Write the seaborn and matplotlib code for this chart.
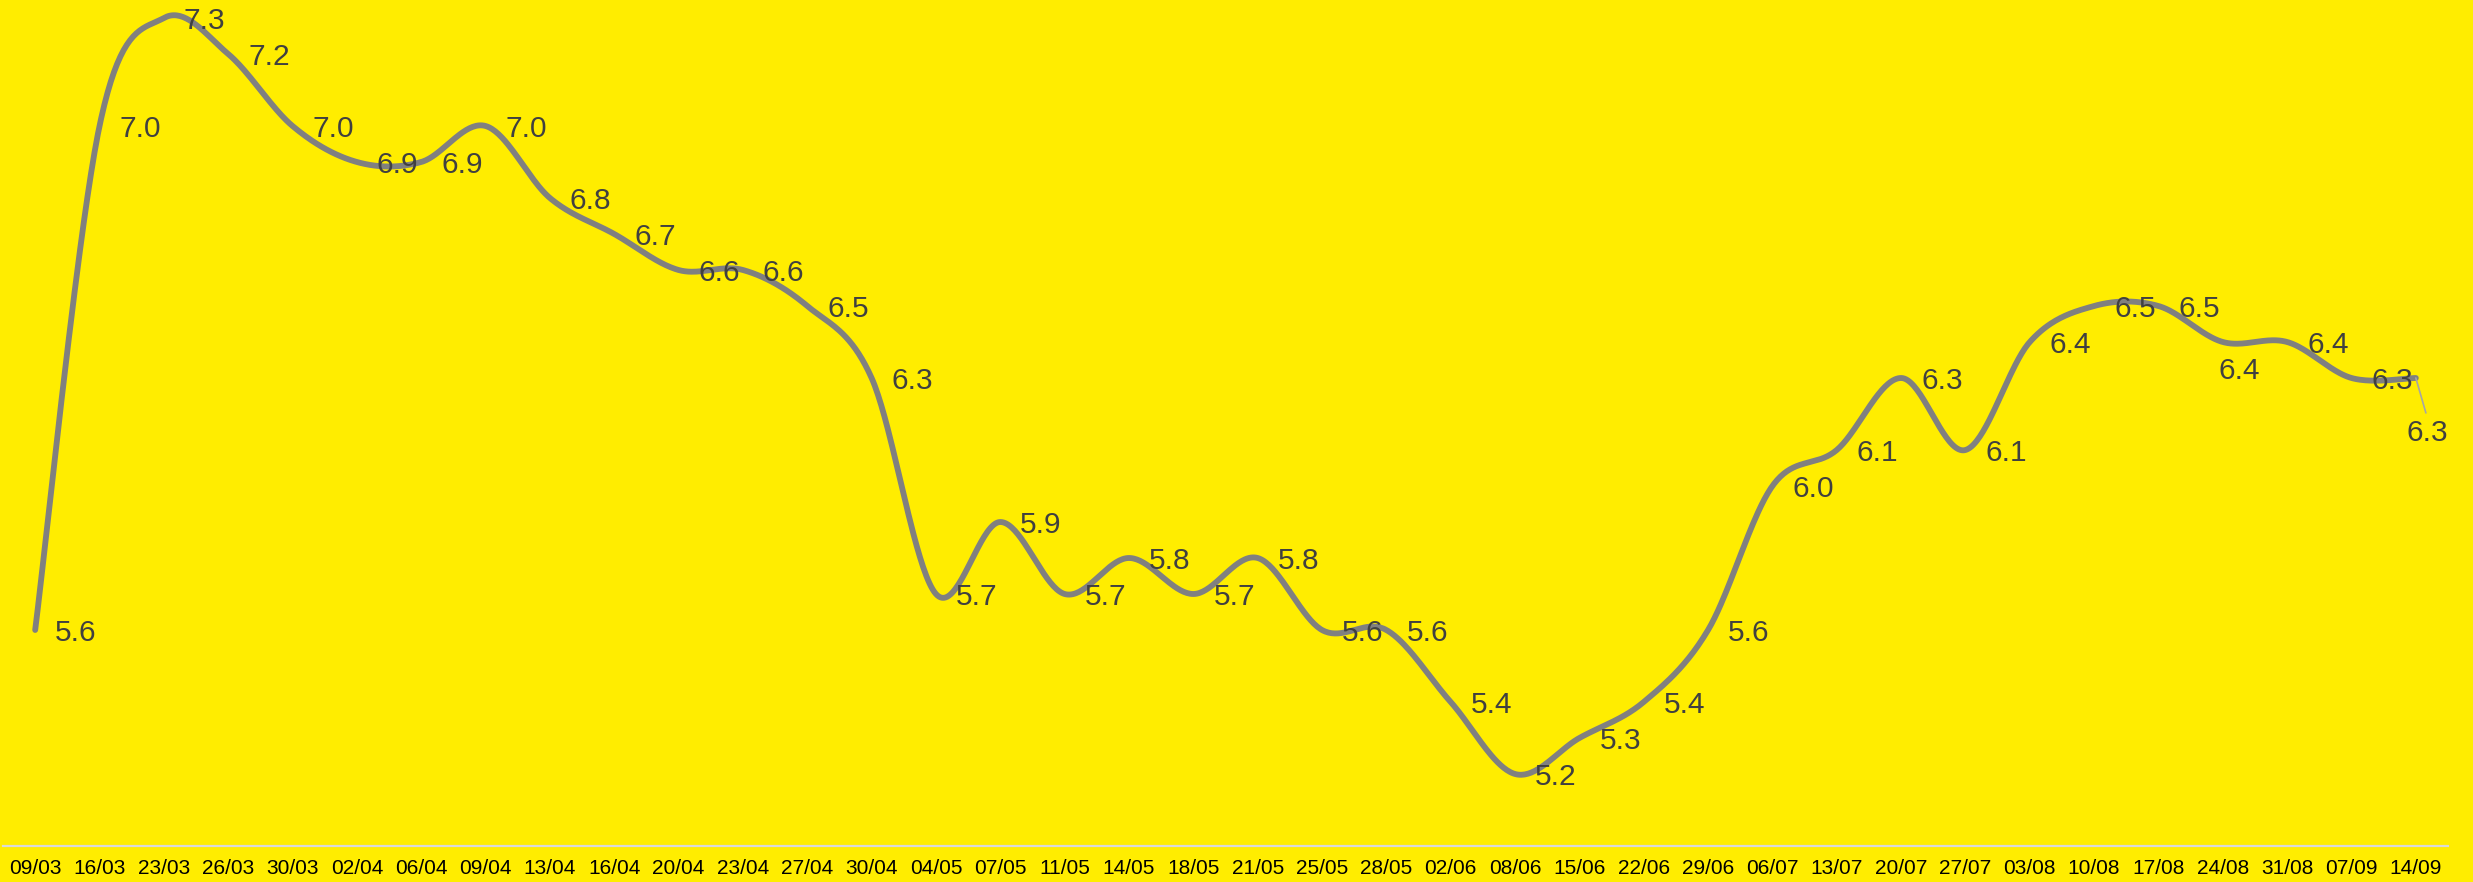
import numpy as np
import pandas as pd
import matplotlib
matplotlib.use("Agg")
import matplotlib.pyplot as plt
import seaborn as sns

dates = ["09/03", "16/03", "23/03", "26/03", "30/03", "02/04", "06/04", "09/04",
         "13/04", "16/04", "20/04", "23/04", "27/04", "30/04", "04/05", "07/05",
         "11/05", "14/05", "18/05", "21/05", "25/05", "28/05", "02/06", "08/06",
         "15/06", "22/06", "29/06", "06/07", "13/07", "20/07", "27/07", "03/08",
         "10/08", "17/08", "24/08", "31/08", "07/09", "14/09"]
values = [5.6, 7.0, 7.3, 7.2, 7.0, 6.9, 6.9, 7.0, 6.8, 6.7, 6.6, 6.6, 6.5, 6.3,
          5.7, 5.9, 5.7, 5.8, 5.7, 5.8, 5.6, 5.6, 5.4, 5.2, 5.3, 5.4, 5.6, 6.0,
          6.1, 6.3, 6.1, 6.4, 6.5, 6.5, 6.4, 6.4, 6.3, 6.3]

BG = "#FFED00"
LINE = "#808080"
LABEL = "#404040"

sns.set_theme(style="white")
plt.rcParams["font.family"] = ["Liberation Sans", "DejaVu Sans"]


def smooth(xs, ys, n=40):
    """Cubic Bezier smoothing through the data points (Catmull-Rom style)."""
    P = np.column_stack([xs, ys]).astype(float)
    P = np.vstack([P[0], P, P[-1]])
    t = np.linspace(0, 1, n, endpoint=False)[:, None]
    pts = []
    for i in range(1, len(P) - 2):
        p0, p1, p2, p3 = P[i - 1], P[i], P[i + 1], P[i + 2]
        c1 = p1 + (p2 - p0) / 6.0
        c2 = p2 - (p3 - p1) / 6.0
        seg = ((1 - t) ** 3) * p1 + 3 * ((1 - t) ** 2) * t * c1 + 3 * (1 - t) * t ** 2 * c2 + t ** 3 * p2
        pts.append(seg)
    pts.append(P[-2][None, :])
    pts = np.vstack(pts)
    return pts[:, 0], pts[:, 1]


idx = np.arange(len(dates))
sx, sy = smooth(idx, values)
curve = pd.DataFrame({"x": sx, "y": sy})

W, H = 2473, 882
fig = plt.figure(figsize=(W / 100, H / 100), dpi=100, facecolor=BG)
ax = fig.add_axes([3 / W, 36 / H, 2445 / W, 846 / H])
ax.set_facecolor(BG)

sns.lineplot(data=curve, x="x", y="y", sort=False, estimator=None, color=LINE,
             linewidth=4.2, ax=ax, legend=False, solid_capstyle="round")

# label placement (offset points); default is right of the point
special_offsets = {"24/08": (-3.0, -21.0)}
for i, v in enumerate(values[:-1]):
    off = special_offsets.get(dates[i], (14.4, -2.0))
    ax.annotate(f"{v:.1f}", (i, v), xytext=off, textcoords="offset points",
                ha="left", va="center", fontsize=21.5, color=LABEL)
ax.annotate(f"{values[-1]:.1f}", (idx[-1], values[-1]), xytext=(-6.5, -39.5),
            textcoords="offset points", ha="left", va="center", fontsize=21.5,
            color=LABEL,
            arrowprops=dict(arrowstyle="-", color="#a6a6a6", lw=1.2,
                            shrinkA=2, shrinkB=0, relpos=(0.5, 1.0)))

ax.set_xlim(-0.5, len(dates) - 0.5)
ax.set_ylim(5.0, 7.35)
ax.set_xticks(idx)
ax.set_xticklabels(dates, fontsize=15, color="black")
ax.set_yticks([])
ax.set_xlabel("")
ax.set_ylabel("")
ax.tick_params(axis="x", length=0, pad=9)
for s in ["left", "top", "right"]:
    ax.spines[s].set_visible(False)
ax.spines["bottom"].set_color("#d9d9d9")
ax.spines["bottom"].set_linewidth(1.6)

fig.savefig("out.png", dpi=100, facecolor=BG)
